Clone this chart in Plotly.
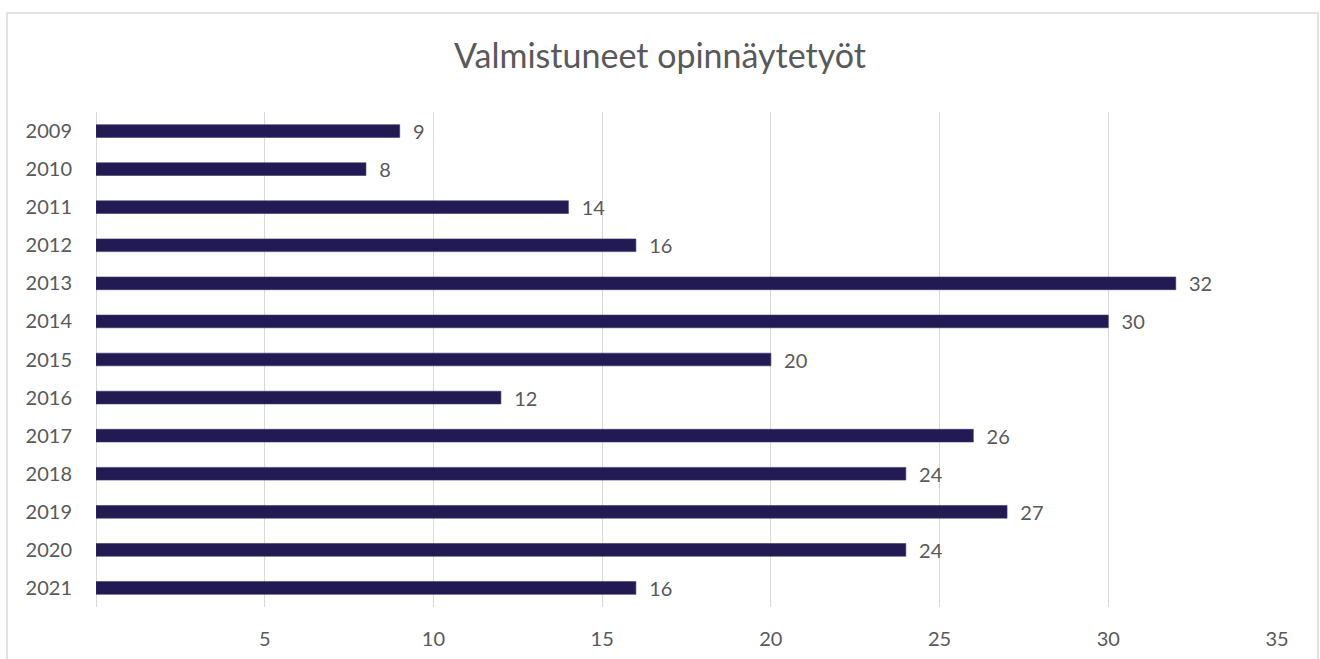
import plotly.graph_objects as go

years = ["2009", "2010", "2011", "2012", "2013", "2014", "2015",
         "2016", "2017", "2018", "2019", "2020", "2021"]
counts = [9, 8, 14, 16, 32, 30, 20, 12, 26, 24, 27, 24, 16]
x_ticks = [5, 10, 15, 20, 25, 30, 35]
title_text = "Valmistuneet opinnäytetyöt"

BAR = "#221A52"
TXT = "#595959"
GRID = "#D9D9D9"
FONT = "Lato, Carlito, Calibri, sans-serif"

fig = go.Figure()
fig.add_trace(go.Bar(
    y=years, x=counts, orientation="h",
    marker=dict(color=BAR, line=dict(color="#3A3470", width=0.6)),
    text=[str(v) for v in counts],
    texttemplate="  %{text}",
    textposition="outside",
    textfont=dict(family=FONT, size=20, color=TXT),
    cliponaxis=False,
    hoverinfo="x+y",
))

W, H = 1320, 659
ml, mr, mt, mb = 96, 43, 112, 52
fig.update_layout(
    width=W, height=H,
    margin=dict(l=ml, r=mr, t=mt, b=mb, autoexpand=False),
    paper_bgcolor="white", plot_bgcolor="white",
    showlegend=False,
    bargap=0.667,
    uniformtext=dict(minsize=20, mode="show"),
    title=dict(text=title_text, x=0.5, xanchor="center", y=1 - 56 / H, yanchor="middle",
               font=dict(family=FONT, size=34, color=TXT)),
    font=dict(family=FONT, size=20, color=TXT),
)
fig.update_xaxes(range=[0, 35], tickvals=x_ticks, ticktext=[str(t) for t in x_ticks],
                 showgrid=True, gridcolor=GRID, gridwidth=1.3,
                 zeroline=True, zerolinecolor=GRID, zerolinewidth=1.3,
                 showline=False, ticks="", ticklabelstandoff=18,
                 tickfont=dict(family=FONT, size=20, color=TXT), fixedrange=True)
fig.update_yaxes(type="category", autorange="reversed", showgrid=False, showline=False,
                 ticks="", ticklabelstandoff=23,
                 tickfont=dict(family=FONT, size=20, color=TXT), fixedrange=True)

# chart border (Excel chart area frame)
pw = W - ml - mr
ph = H - mt - mb
fig.add_shape(type="rect", xref="paper", yref="paper",
              x0=(7 - ml) / pw, x1=(1318 - ml) / pw,
              y0=(H - mb - 670) / ph, y1=(H - mb - 13) / ph,
              line=dict(color="#D9D9D9", width=1.5), fillcolor="rgba(0,0,0,0)", layer="below")

fig.write_html("out.html", config={"displayModeBar": False},
               post_script="document.body.style.margin='0';document.body.style.overflow='hidden';")
